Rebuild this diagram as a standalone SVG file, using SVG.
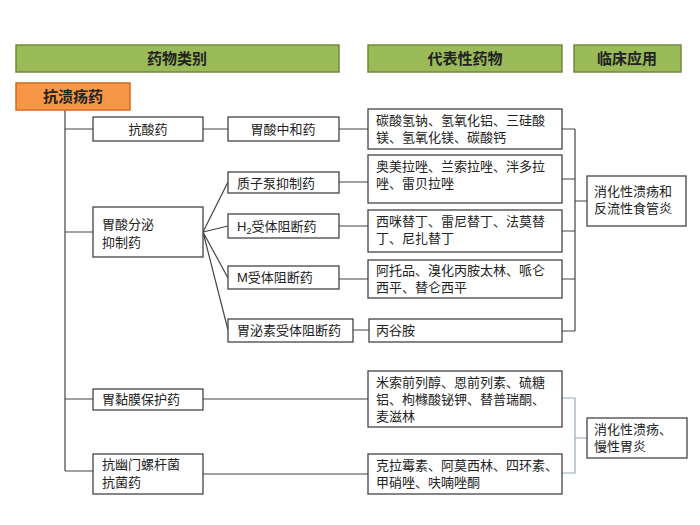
<svg xmlns="http://www.w3.org/2000/svg" width="700" height="525" viewBox="0 0 700 525">
<style>
text{font-family:"Liberation Sans","Noto Sans CJK SC",sans-serif;font-size:13px;fill:#222}
.h{font-size:15px;font-weight:bold;text-anchor:middle}
.hb{fill:#9bbb59;stroke:#71893f;stroke-width:1.5}
.b{fill:#fff;stroke:#444;stroke-width:1.3}
.c{fill:none;stroke:#444;stroke-width:1.2}
.m{text-anchor:middle}
</style>
<rect width="700" height="525" fill="#fff"/>
<g id="hdr1"><rect class="hb" x="16" y="45" width="323" height="27"/><text class="h" x="177" y="64">药物类别</text></g>
<g id="hdr2"><rect class="hb" x="368" y="45" width="194" height="27"/><text class="h" x="465" y="64">代表性药物</text></g>
<g id="hdr3"><rect class="hb" x="574" y="45" width="107" height="27"/><text class="h" x="627" y="64">临床应用</text></g>
<g id="connectors">
<path class="c" d="M65 110V471M65 129H93M65 232H93M65 399H93M65 471H93"/>
<path class="c" d="M203 129H228M339 129H368M203 232L228 182M203 232L228 226M203 232L228 278M203 232L228 330"/>
<path class="c" d="M339 182H368M339 226H368M339 279H368M353 330H369"/>
<path class="c" d="M203 399H368M203 474H368"/>
<path class="c" d="M562 129H575M562 179H575M562 231H575M562 279H575M562 331H575M575 129V331M575 201H587"/>
<path fill="none" stroke="#9ab" stroke-width="1.2" d="M562 398H575V473H562M575 438H587"/>
</g>
<g id="root"><rect x="16" y="83" width="114" height="27" fill="#f79646" stroke="#d06a20" stroke-width="1.5"/><text class="h" x="73" y="102">抗溃疡药</text></g>
<g id="n1"><rect class="b" x="93" y="117" width="110" height="24"/><text class="m" x="148" y="134">抗酸药</text></g>
<g id="n2"><rect class="b" x="228" y="117" width="111" height="24"/><text class="m" x="283" y="134">胃酸中和药</text></g>
<g id="n3"><rect class="b" x="93" y="207" width="110" height="50"/><text x="102" y="229">胃酸分泌</text><text x="102" y="247">抑制药</text></g>
<g id="n4"><rect class="b" x="228" y="172" width="111" height="21"/><text x="237" y="188">质子泵抑制药</text></g>
<g id="n5"><rect class="b" x="228" y="214" width="111" height="24"/><text x="237" y="231">H<tspan font-size="9" dy="3">2</tspan><tspan dy="-3">受体阻断药</tspan></text></g>
<g id="n6"><rect class="b" x="228" y="266" width="111" height="23"/><text x="237" y="282">M受体阻断药</text></g>
<g id="n7"><rect class="b" x="228" y="319" width="125" height="23"/><text x="237" y="335">胃泌素受体阻断药</text></g>
<g id="n8"><rect class="b" x="93" y="389" width="110" height="21"/><text x="102" y="404">胃黏膜保护药</text></g>
<g id="n9"><rect class="b" x="93" y="454" width="110" height="40"/><text x="102" y="469">抗幽门螺杆菌</text><text x="102" y="487">抗菌药</text></g>
<g id="d1"><rect class="b" x="368" y="109" width="194" height="40"/><text x="376" y="125">碳酸氢钠、氢氧化铝、三硅酸</text><text x="376" y="142">镁、氢氧化镁、碳酸钙</text></g>
<g id="d2"><rect class="b" x="368" y="155" width="194" height="48"/><text x="376" y="171">奥美拉唑、兰索拉唑、泮多拉</text><text x="376" y="188">唑、雷贝拉唑</text></g>
<g id="d3"><rect class="b" x="368" y="210" width="194" height="42"/><text x="376" y="226">西咪替丁、雷尼替丁、法莫替</text><text x="376" y="243">丁、尼扎替丁</text></g>
<g id="d4"><rect class="b" x="368" y="260" width="194" height="38"/><text x="376" y="275">阿托品、溴化丙胺太林、哌仑</text><text x="376" y="292">西平、替仑西平</text></g>
<g id="d5"><rect class="b" x="369" y="319" width="193" height="23"/><text x="376" y="335">丙谷胺</text></g>
<g id="d6"><rect class="b" x="368" y="371" width="194" height="56"/><text x="376" y="387">米索前列醇、恩前列素、硫糖</text><text x="376" y="404">铝、枸橼酸铋钾、替普瑞酮、</text><text x="376" y="421">麦滋林</text></g>
<g id="d7"><rect class="b" x="368" y="454" width="194" height="40"/><text x="376" y="470">克拉霉素、阿莫西林、四环素、</text><text x="376" y="487">甲硝唑、呋喃唑酮</text></g>
<g id="u1"><rect class="b" x="587" y="176" width="99" height="50"/><text x="594" y="196">消化性溃疡和</text><text x="594" y="213">反流性食管炎</text></g>
<g id="u2"><rect class="b" x="587" y="418" width="100" height="40"/><text x="594" y="434">消化性溃疡、</text><text x="594" y="451">慢性胃炎</text></g>
</svg>
